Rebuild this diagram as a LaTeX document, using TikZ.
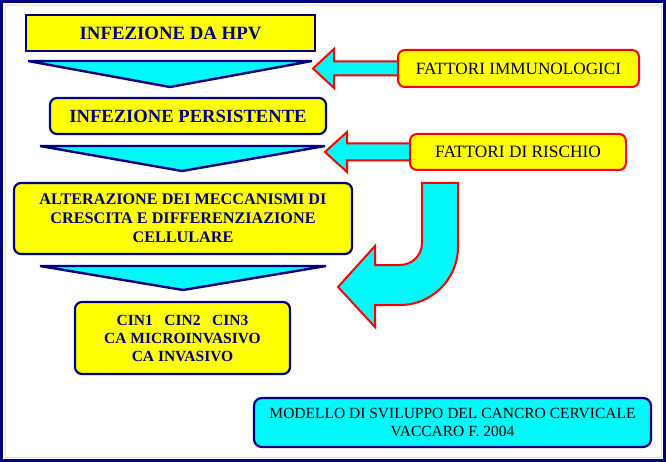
\documentclass[tikz,border=0pt]{standalone}
\usepackage{fontspec}
\setmainfont{Liberation Serif}
\newfontfamily\tnr{Liberation Serif}
\definecolor{navy}{HTML}{000080}
\definecolor{darktxt}{HTML}{000033}
\definecolor{cyanf}{HTML}{00F8F8}
\definecolor{yell}{HTML}{FFFF00}
\definecolor{redl}{HTML}{FF0000}
\begin{document}
\begin{tikzpicture}[x=1pt,y=-1pt,
  mainbox/.style={draw=navy, line width=2.2pt, fill=yell, rounded corners=7pt, align=center, text=navy, inner sep=0pt},
  factbox/.style={draw=redl, line width=2pt, fill=yell, rounded corners=7pt, align=center, text=darktxt, inner sep=0pt},
  tri/.style={draw=navy, line width=2.4pt, fill=cyanf, line join=miter},
  barrow/.style={draw=redl, line width=2pt, fill=cyanf, line join=miter}]
\useasboundingbox (0,0) rectangle (666,462);
\fill[white] (0,0) rectangle (666,462);
\draw[navy, line width=3pt] (1.5,1.5) rectangle (664.5,460.5);
\draw[gray!25, line width=0.8pt] (5,5) rectangle (661,457);

% main column
\node[mainbox, rounded corners=0pt, minimum width=289pt, minimum height=36pt, font=\tnr\bfseries\fontsize{18.8}{22}\selectfont] (b1) at (170.5,33) {INFEZIONE DA HPV};
\draw[tri] (28,61) -- (312,61) -- (170,87) -- cycle;
\node[mainbox, minimum width=276pt, minimum height=36pt, font=\tnr\bfseries\fontsize{18.6}{22}\selectfont] (b2) at (188,116) {INFEZIONE PERSISTENTE};
\draw[tri] (40,146) -- (325,146) -- (182,171) -- cycle;
\node[mainbox, minimum width=338pt, minimum height=71pt, font=\tnr\bfseries\fontsize{16.2}{19}\selectfont] (b3) at (183,218.5) {ALTERAZIONE DEI MECCANISMI DI\\CRESCITA E DIFFERENZIAZIONE\\CELLULARE};
\draw[tri] (40,266) -- (326,266) -- (183,290) -- cycle;
\node[mainbox, minimum width=215pt, minimum height=72pt, font=\tnr\bfseries\fontsize{15.5}{18}\selectfont] (b4) at (182.5,338) {CIN1\ \ \ CIN2\ \ \ CIN3\\CA MICROINVASIVO\\CA INVASIVO};

% factor boxes
\node[factbox, minimum width=241pt, minimum height=37pt, font=\tnr\fontsize{17.2}{20}\selectfont] (f1) at (518.5,68.5) {FATTORI IMMUNOLOGICI};
\node[factbox, minimum width=216pt, minimum height=36pt, font=\tnr\fontsize{17.3}{20}\selectfont] (f2) at (518,152) {FATTORI DI RISCHIO};

% block arrows
\path[barrow] ([yshift=7pt]f1.west) -- ++(-63,0) -- ++(0,-12.5) -- ++(-21,19.5) -- ++(21,19.5) -- ++(0,-12.5) -- ([yshift=-7pt]f1.west);
\path[barrow] ([yshift=8.5pt]f2.west) -- ++(-62,0) -- ++(0,-11.5) -- ++(-22,20) -- ++(22,20) -- ++(0,-11.5) -- ([yshift=-8.5pt]f2.west);
\draw[barrow] (422,183) -- (458,183) -- (458,247) arc[start angle=0, end angle=90, radius=58] -- (375,305) -- (375,327) -- (338,287) -- (375,246) -- (375,265) -- (400,265) arc[start angle=90, end angle=0, radius=22] -- cycle;

% caption
\node[draw=navy, line width=2.2pt, fill=cyanf, rounded corners=8pt, minimum width=397pt, minimum height=49pt, align=center, text=black, inner sep=0pt, font=\tnr\fontsize{15.5}{18}\selectfont] (cap) at (452.5,422.5) {MODELLO DI SVILUPPO DEL CANCRO CERVICALE\\VACCARO F. 2004};
\end{tikzpicture}
\end{document}
